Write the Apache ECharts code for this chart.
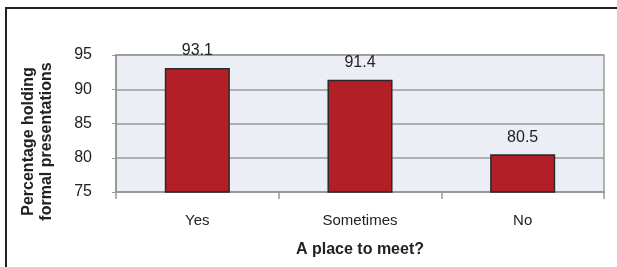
<!DOCTYPE html>
<html>
<head>
<meta charset="utf-8">
<script src="https://cdn.jsdelivr.net/npm/echarts@6/dist/echarts.min.js"></script>
<style>
  html, body { margin: 0; padding: 0; background: #fff; }
  #chart { width: 617px; height: 267px; }
</style>
</head>
<body>
<div id="chart"></div>
<script>
// 数据
const categories = ['Yes', 'Sometimes', 'No'];
const values = [93.1, 91.4, 80.5];
const yTicks = [75, 80, 85, 90, 95];

const fontFamily = '"Liberation Sans", Arial, sans-serif';

const option = {
    animation: false,
    textStyle: { fontFamily: fontFamily },
    graphic: [
        {
            // 外框（只露出上边和左边）
            type: 'rect',
            shape: { x: 6, y: 8, width: 800, height: 400 },
            style: { fill: 'none', stroke: '#222', lineWidth: 2 },
            silent: true
        }
    ],
    grid: {
        left: 116,
        right: 13,
        top: 55,
        bottom: 75,
        show: true,
        backgroundColor: '#ECEEF6',
        borderColor: '#9a9a9a',
        borderWidth: 1.5
    },
    xAxis: {
        type: 'category',
        data: categories,
        name: 'A place to meet?',
        nameLocation: 'middle',
        nameGap: 50,
        nameTextStyle: { fontSize: 16, fontWeight: 'bold', color: '#222', fontFamily: fontFamily },
        axisLine: { lineStyle: { color: '#999', width: 2 } },
        axisTick: { show: true, length: 7, lineStyle: { color: '#999', width: 1.5 } },
        axisLabel: { fontSize: 15, color: '#222', margin: 21 }
    },
    yAxis: {
        type: 'value',
        min: 75,
        max: 95,
        interval: 5,
        name: 'Percentage holding\nformal presentations',
        nameLocation: 'middle',
        nameGap: 60,
        nameRotate: 90,
        nameTextStyle: {
            fontSize: 16, fontWeight: 'bold', color: '#222', lineHeight: 18,
            fontFamily: fontFamily, padding: [0, 0, 0, -36]
        },
        axisLine: { show: true, lineStyle: { color: '#999', width: 2 } },
        axisTick: { show: true, length: 4, lineStyle: { color: '#999' } },
        axisLabel: {
            fontSize: 16, color: '#222', margin: 24,
            formatter: v => (yTicks.includes(v) ? String(v) : '')
        },
        splitLine: { show: true, lineStyle: { color: '#9a9a9a', width: 1.5 } }
    },
    series: [
        {
            type: 'bar',
            data: values,
            barWidth: '40%',
            itemStyle: { color: '#B31F26', borderColor: '#2a2a2a', borderWidth: 1.5 },
            label: {
                show: true,
                position: 'top',
                distance: 9,
                fontSize: 16,
                color: '#222',
                fontFamily: fontFamily,
                formatter: p => p.value.toFixed(1)
            }
        }
    ]
};

const chart = echarts.init(document.getElementById('chart'));
chart.setOption(option);
</script>
</body>
</html>
